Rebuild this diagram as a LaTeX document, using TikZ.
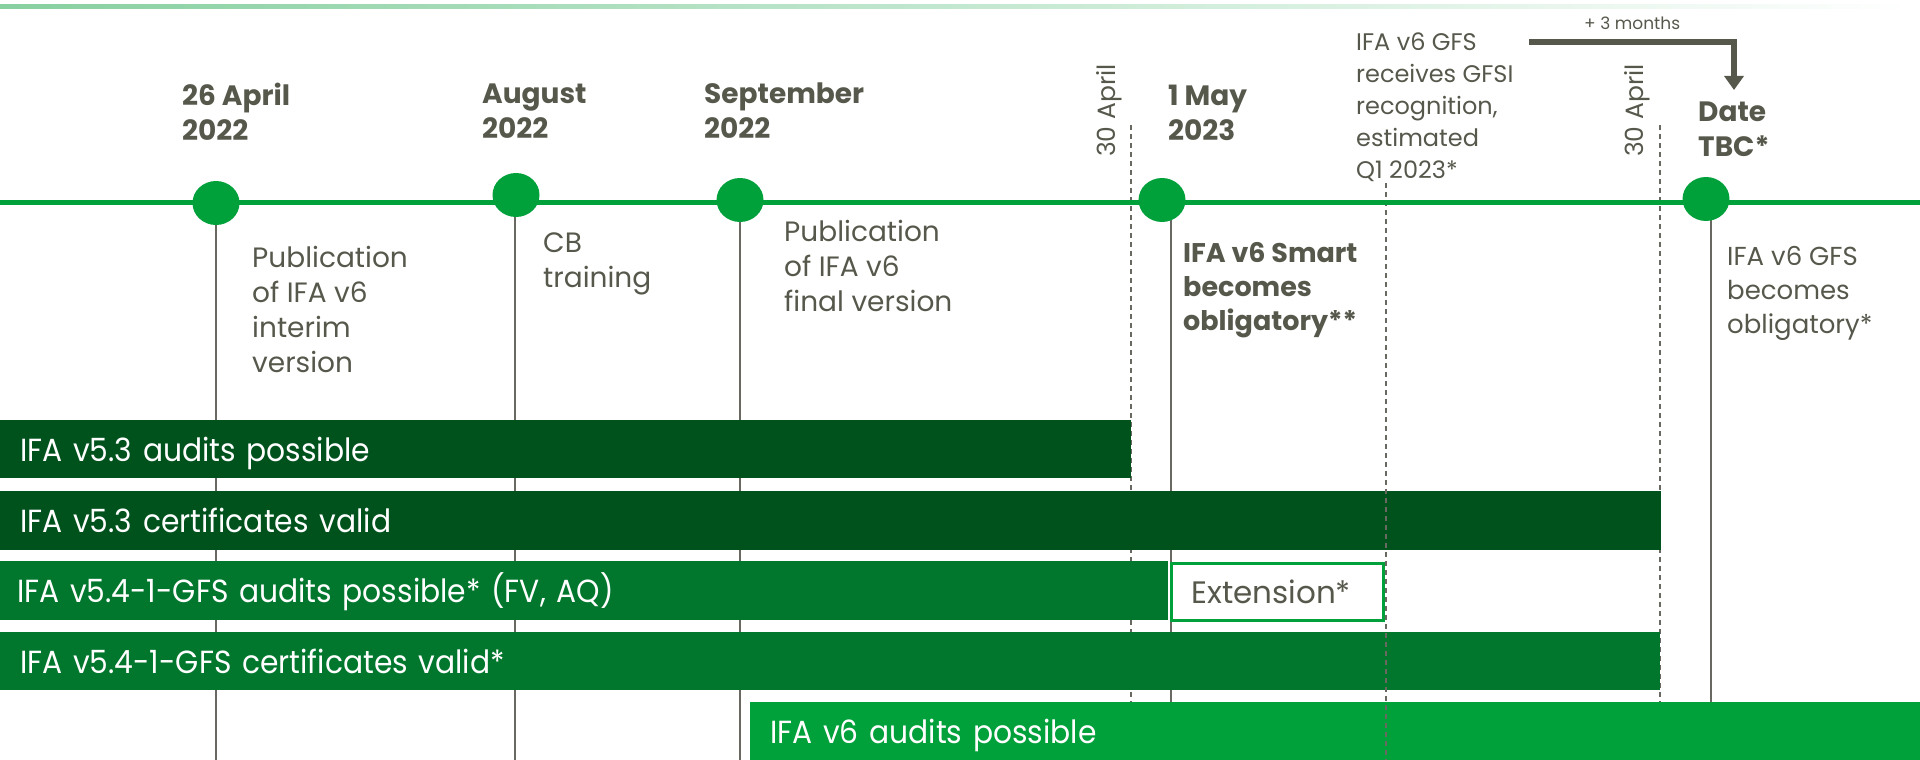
\documentclass[tikz,border=0pt]{standalone}
\usepackage{fontspec}
\setmainfont{Poppins}
\newfontfamily\barfont[FakeStretch=0.93]{Poppins}
\usetikzlibrary{arrows.meta,shapes.geometric}
\definecolor{tgray}{RGB}{87,88,76}
\definecolor{lgray}{RGB}{105,105,98}
\definecolor{gmain}{RGB}{0,160,58}
\definecolor{gdark}{RGB}{0,82,29}
\definecolor{gmid}{RGB}{0,119,45}
\definecolor{topg}{RGB}{135,208,160}
\newcommand\fsz[2]{\fontsize{#1}{#2}\selectfont}
\begin{document}
\begin{tikzpicture}[x=1pt,y=-1pt,
  vline/.style={draw=lgray,line width=1.1pt},
  dline/.style={draw=lgray,line width=1.1pt,dash pattern=on 5pt off 4pt},
  dot/.style={ellipse,fill=gmain,minimum width=47pt,minimum height=44pt,inner sep=0pt},
  head/.style={anchor=base west,inner sep=0pt,align=left,text=tgray,font=\bfseries\fsz{28}{35}},
  desc/.style={anchor=base west,inner sep=0pt,align=left,text=tgray,font=\fsz{28}{35}},
  rot/.style={rotate=90,anchor=base west,inner sep=0pt,text=tgray,font=\fsz{25}{30}},
  bar/.style={anchor=north west,inner xsep=20pt,inner ysep=0pt,text=white,align=left,
    font=\barfont\fsz{32}{38},text height=24pt,text depth=0pt}]
\useasboundingbox (0,0) rectangle (1920,760);
% top gradient rule
\shade[left color=topg,right color=white] (0,5) rectangle (1920,8.5);
% named coordinates for the vertical guide lines
\coordinate (v1t) at (216,203); \coordinate (v1b) at (216,760);
\coordinate (v2t) at (515,195); \coordinate (v2b) at (515,760);
\coordinate (v3t) at (740,200); \coordinate (v3b) at (740,760);
\coordinate (v4t) at (1171,200); \coordinate (v4b) at (1171,760);
\coordinate (v5t) at (1711,199); \coordinate (v5b) at (1711,760);
\coordinate (q1t) at (1131,125); \coordinate (q1b) at (1131,702);
\coordinate (q2t) at (1660,125); \coordinate (q2b) at (1660,702);
\coordinate (q3t) at (1386,183); \coordinate (q3b) at (1386,760);
\draw[vline] (v1t) -- (v1b);
\draw[vline] (v2t) -- (v2b);
\draw[vline] (v3t) -- (v3b);
\draw[vline] (v4t) -- (v4b);
\draw[vline] (v5t) -- (v5b);
\draw[dline] (q1t) -- (q1b);
\draw[dline] (q2t) -- (q2b);
% bars
\node[bar,fill=gdark,minimum height=58pt,text width=1091pt] (b1) at (0,420) {IFA v5.3 audits possible};
\node[bar,fill=gdark,minimum height=59pt,text width=1621pt] (b2) at (0,491) {IFA v5.3 certificates valid};
\node[bar,fill=gmid,minimum height=59pt,inner xsep=17pt,text width=1134pt] (b3) at (0,561) {IFA v5.4-1-GFS audits possible* (FV, AQ)};
\node[bar,fill=white,draw=gmain,line width=2.5pt,text=tgray,font=\fsz{31}{38},minimum height=57pt,text width=172pt] (ext) at (1170,562) {Extension*};
\node[bar,fill=gmid,minimum height=58pt,text width=1620pt] (b4) at (0,632) {IFA v5.4-1-GFS certificates valid*};
\node[bar,fill=gmain,minimum height=58pt,text width=1130pt] (b5) at (750,702) {IFA v6 audits possible};
\draw[dline] (q3t) -- (q3b);
% timeline
\coordinate (tl0) at (0,202); \coordinate (tl1) at (1920,202);
\draw[gmain,line width=5pt] (tl0) -- (tl1);
\node[dot] (d1) at (216,203) {};
\node[dot] (d2) at (516,195) {};
\node[dot] (d3) at (740,200) {};
\node[dot] (d4) at (1162,200) {};
\node[dot] (d5) at (1706,199) {};
% headings (anchored at the baseline of their last line)
\node[head] (h1) at (182,140) {26 April\\2022};
\node[head] (h2) at (482,138) {August\\2022};
\node[head] (h3) at (704,138) {September\\2022};
\node[head] (h4) at (1168,140) {1 May\\2023};
\node[head] (h5) at (1698,156) {Date\\TBC*};
% descriptions (anchored at the baseline of their last line)
\node[desc] (t1) at (252,372) {Publication\\of IFA v6\\interim\\version};
\node[desc] (t2) at (543,287) {CB\\training};
\node[desc] (t3) at (784,311) {Publication\\of IFA v6\\final version};
\node[desc,font=\bfseries\fsz{27}{34}] (t4) at (1183,330) {IFA v6 Smart\\becomes\\obligatory**};
\node[desc,font=\fsz{24}{32}] (t5) at (1356,178) {IFA v6 GFS\\receives GFSI\\recognition,\\estimated\\Q1 2023*};
\node[desc,font=\fsz{26}{34}] (t6) at (1727,333) {IFA v6 GFS\\becomes\\obligatory*};
% rotated dates
\node[rot] (r1) at (1115,157) {30 April};
\node[rot] (r2) at (1643,157) {30 April};
% +3 months arrow
\node[desc,font=\fsz{17}{20}] (pm) at (1584,30) {+ 3 months};
\coordinate (as) at (1529,42); \coordinate (ac) at (1734,42); \coordinate (ae) at (1734,90);
\draw[tgray,line width=6pt,-{Triangle[length=14pt,width=19pt]}] (as) -- (ac) -- (ae);
\end{tikzpicture}
\end{document}
